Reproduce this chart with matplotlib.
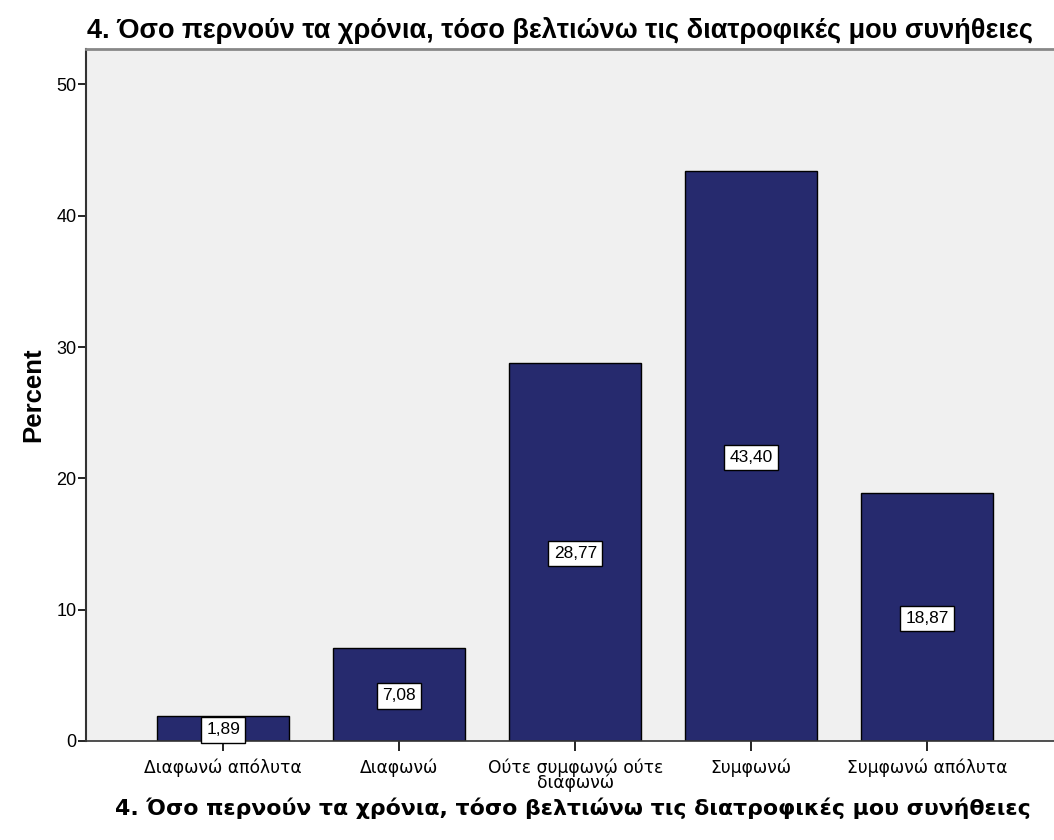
import numpy as np
import matplotlib.pyplot as plt

categories = ['Διαφωνώ απόλυτα', 'Διαφωνώ', 'Ούτε συμφωνώ ούτε\nδιαφωνώ',
              'Συμφωνώ', 'Συμφωνώ απόλυτα']
percents = [1.89, 7.08, 28.77, 43.40, 18.87]
yticks = [0, 10, 20, 30, 40, 50]
question = '4. Όσο περνούν τα χρόνια, τόσο βελτιώνω τις διατροφικές μου συνήθειες'

plt.rcParams['font.family'] = ['Liberation Sans', 'DejaVu Sans']

fig = plt.figure(figsize=(10.54, 8.4), dpi=100)
ax = fig.add_axes([0.0816, 0.118, 0.9184, 0.8237])
ax.set_facecolor('#f0f0f0')

x = np.arange(len(categories))
ax.bar(x, percents, width=0.75, color='#262a6e', edgecolor='black', linewidth=1, zorder=2)

# value boxes in the middle of each bar
for xi, v in zip(x, percents):
    ax.text(xi, v / 2, f'{v:.2f}'.replace('.', ','), ha='center', va='center_baseline',
            fontsize=12.5, zorder=3,
            bbox=dict(boxstyle='square,pad=0.3', fc='white', ec='black', lw=1))

ax.set_xlim(-0.78, 4.72)
ax.set_ylim(0, 52.7)
ax.set_yticks(yticks)
ax.set_xticks(x)
ax.set_xticklabels(categories, fontsize=12.3, linespacing=0.78, family=['DejaVu Sans'])
ax.tick_params(axis='y', length=6, width=1.2, labelsize=13, pad=1)
ax.tick_params(axis='x', length=7.5, width=1.2, pad=5)

ax.spines['right'].set_visible(False)
ax.spines['left'].set_linewidth(1.5)
ax.spines['left'].set_color('#333333')
ax.spines['bottom'].set_linewidth(1.2)
ax.spines['bottom'].set_color('#333333')
ax.spines['top'].set_linewidth(2)
ax.spines['top'].set_color('#888888')

ax.set_ylabel('Percent', fontsize=18.5, fontweight='bold', labelpad=8)
ax.set_xlabel(question, fontsize=15.8, fontweight='bold', family=['DejaVu Sans'])
ax.xaxis.label.set_va('center')
ax.xaxis.set_label_coords(0.503, -0.097)
fig.text(0.083, 0.964, question, fontsize=19.5, fontweight='bold', ha='left', va='center')

fig.savefig('out.png', dpi=100)
